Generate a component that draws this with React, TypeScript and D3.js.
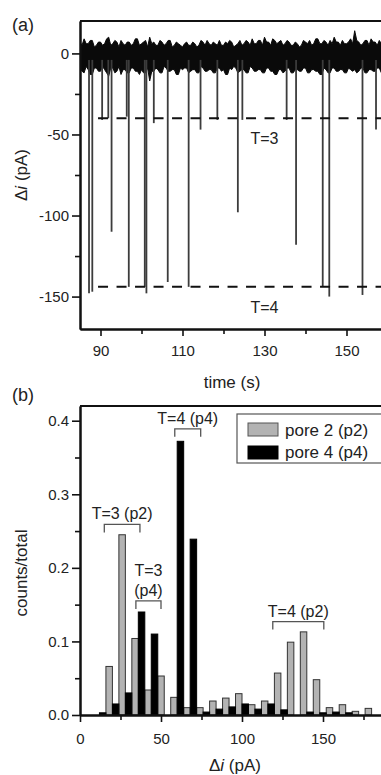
import React, { useEffect, useRef } from 'react';
import * as d3 from 'd3';

const W = 381;
const H = 775;
const FONT = "'Liberation Sans', Arial, Helvetica, sans-serif";

// ---- panel (a): current trace ----
const timeTicks = [90, 110, 130, 150];
const timeMinor = [100, 120, 140];
const currentTicks = [0, -50, -100, -150];
const currentMinor = [-25, -75, -125];

// noise envelope of the open-pore current, every 0.5 s starting at 85 s
const envStart = 85;
const envStep = 0.5;
const envUpper = [
  7, 5, 9, 6, 6, 8, 8, 4, 5, 7, 7, 5, 6, 9, 10, 5, 6, 8, 7, 4,
  8, 6, 5, 7, 7, 5, 6, 9, 9, 5, 6, 7, 8, 4, 10, 6, 7, 5, 5, 8,
  7, 5, 6, 8, 8, 4, 5, 7, 6, 5, 4, 6, 7, 5, 5, 7, 6, 4, 5, 8,
  7, 5, 8, 6, 5, 7, 6, 5, 8, 5, 5, 7, 6, 8, 7, 4, 5, 6, 8, 5,
  6, 8, 7, 5, 9, 6, 6, 8, 8, 5, 10, 7, 7, 5, 9, 8, 6, 7, 8, 5,
  6, 8, 7, 5, 5, 7, 6, 4, 5, 8, 7, 6, 8, 5, 6, 9, 9, 6, 6, 8,
  7, 5, 8, 6, 10, 7, 7, 5, 8, 6, 6, 7, 9, 6, 14, 8, 7, 5, 6, 8,
  8, 5, 9, 7, 7, 5, 8, 6, 6, 7, 7,
];
const envLower = [
  -9, -11, -12, -8, -10, -13, -13, -9, -9, -11, -11, -8, -10, -12, -14, -9, -9, -12, -11, -8,
  -13, -10, -10, -12, -12, -9, -9, -11, -11, -13, -10, -12, -12, -9, -17, -11, -11, -9, -10, -12,
  -12, -8, -9, -11, -11, -10, -10, -13, -13, -9, -10, -9, -9, -12, -11, -10, -10, -12, -12, -8,
  -9, -11, -11, -10, -10, -12, -12, -9, -9, -11, -10, -13, -13, -9, -10, -8, -9, -12, -11, -10,
  -10, -12, -12, -8, -9, -11, -11, -10, -10, -12, -12, -9, -9, -11, -11, -13, -13, -10, -10, -12,
  -11, -9, -9, -12, -12, -10, -10, -11, -11, -9, -9, -12, -12, -10, -10, -11, -11, -13, -13, -9,
  -10, -12, -12, -9, -9, -11, -11, -10, -10, -12, -12, -9, -10, -11, -10, -12, -11, -9, -9, -12,
  -12, -10, -10, -11, -11, -9, -9, -12, -12, -10, -10,
];

// blockade events
const eventTimes = [
  87.2, 88.0, 90.4, 91.9, 92.7, 96.4, 96.9, 100.8, 101.2, 103.0, 106.4,
  111.5, 114.4, 118.5, 123.5, 124.6, 135.4, 137.7, 144.2, 145.8, 153.9, 157.2,
];
const eventDepths = [
  -148, -147, -41, -40, -110, -39, -144, -144, -148, -43, -141,
  -144, -47, -41, -98, -41, -41, -118, -144, -150, -149, -47,
];

const levelNames = ['T=3', 'T=4'];
const levelValues = [-40, -144];

// ---- panel (b): histogram ----
const binWidth = 8;
const binStarts = [8, 16, 24, 32, 40, 48, 56, 64, 72, 80, 88, 96, 104, 112, 120, 128, 136, 144, 152, 160, 168, 176];
const p2Counts = [0, 0.066, 0.245, 0.104, 0.034, 0.053, 0.024, 0.01, 0.01, 0.019, 0.023, 0.029, 0.014, 0.019, 0.057, 0.099, 0.113, 0.048, 0.01, 0.014, 0.005, 0.009];
const p4Counts = [0.003, 0.015, 0.03, 0.14, 0.11, 0, 0.372, 0.239, 0.004, 0.008, 0.011, 0.015, 0.008, 0.015, 0.007, 0, 0.004, 0.003, 0.004, 0.003, 0, 0];
const seriesNames = ['pore 2 (p2)', 'pore 4 (p4)'];
const seriesFill = ['#b3b3b3', '#000'];

const diTicks = [0, 50, 100, 150];
const diMinor = [25, 75, 125, 175];
const fracTicks = [0, 0.1, 0.2, 0.3, 0.4];
const fracMinor = [0.05, 0.15, 0.25, 0.35];

const bracketLabels = [['T=3 (p2)'], ['T=3', '(p4)'], ['T=4 (p4)'], ['T=4 (p2)']];
const bracketFrom = [15, 34.5, 58.5, 119];
const bracketTo = [37, 50, 74.5, 150.5];
const bracketAt = [0.259, 0.155, 0.389, 0.127];

const styleAxis = (g: d3.Selection<SVGGElement, unknown, null, undefined>) => {
  g.select('.domain').attr('stroke', '#111').attr('stroke-width', 2);
  g.selectAll('.tick line').attr('stroke', '#111').attr('stroke-width', 1.6);
  g.selectAll('.tick text')
    .attr('fill', '#222')
    .style('font-family', FONT)
    .style('font-size', '15px');
};

export default function App() {
  const ref = useRef<SVGSVGElement | null>(null);

  useEffect(() => {
    if (!ref.current) return;
    const svg = d3.select(ref.current);
    svg.selectAll('*').remove();

    // ================= panel (a) =================
    const xa = d3.scaleLinear().domain([85, 160]).range([80, 387.5]);
    const ya = d3.scaleLinear().domain([-170, 20]).range([329, 21]);

    svg.append('clipPath').attr('id', 'clipA')
      .append('rect').attr('x', 80).attr('y', 21).attr('width', 308).attr('height', 308);

    const ga = svg.append('g');
    const plotA = ga.append('g').attr('clip-path', 'url(#clipA)');

    const idx = envUpper.map((_, i) => i);
    const band = d3.area<number>()
      .x(i => xa(envStart + i * envStep))
      .y0(i => ya(envLower[i]))
      .y1(i => ya(envUpper[i]));
    plotA.append('path').datum(idx).attr('d', band).attr('fill', '#0a0a0a')
      .attr('stroke', '#0a0a0a').attr('stroke-width', 1);

    const evIdx = eventTimes.map((_, i) => i);
    plotA.selectAll('.event').data(evIdx).join('line')
      .attr('class', 'event')
      .attr('x1', i => xa(eventTimes[i])).attr('x2', i => xa(eventTimes[i]))
      .attr('y1', ya(-4))
      .attr('y2', i => ya(eventDepths[i]))
      .attr('stroke', '#3c3c3c').attr('stroke-width', 1.8);

    plotA.selectAll('.level').data(levelValues).join('line')
      .attr('class', 'level')
      .attr('x1', xa(89.4)).attr('x2', xa(160))
      .attr('y1', d => ya(d)).attr('y2', d => ya(d))
      .attr('stroke', '#111').attr('stroke-width', 2)
      .attr('stroke-dasharray', '10,8.5');

    ga.selectAll('.levelLabel').data(levelNames).join('text')
      .attr('class', 'levelLabel')
      .attr('x', xa(130))
      .attr('y', (_, i) => ya(levelValues[i]) + 26)
      .attr('text-anchor', 'middle')
      .attr('fill', '#222')
      .style('font-family', FONT).style('font-size', '16px')
      .text(d => d);

    // frame + axes
    ga.append('line').attr('x1', 80).attr('x2', 388).attr('y1', 21).attr('y2', 21)
      .attr('stroke', '#111').attr('stroke-width', 2);

    ga.append('g').attr('transform', 'translate(0,329)')
      .call(d3.axisBottom(xa).tickValues(timeMinor).tickSize(5).tickSizeOuter(0).tickFormat(() => ''))
      .call(styleAxis);
    ga.append('g').attr('transform', 'translate(0,329)')
      .call(d3.axisBottom(xa).tickValues(timeTicks).tickSize(7).tickSizeOuter(0).tickPadding(9).tickFormat(d => String(d)))
      .call(styleAxis);
    ga.append('g').attr('transform', 'translate(80,0)')
      .call(d3.axisLeft(ya).tickValues(currentMinor).tickSize(5).tickSizeOuter(0).tickFormat(() => ''))
      .call(styleAxis);
    ga.append('g').attr('transform', 'translate(80,0)')
      .call(d3.axisLeft(ya).tickValues(currentTicks).tickSize(8).tickSizeOuter(0).tickPadding(3)
        .tickFormat(d => String(d).replace('\u2212', '-')))
      .call(styleAxis);

    const yLabA = ga.append('text')
      .attr('transform', 'translate(27,175) rotate(-90)')
      .attr('text-anchor', 'middle').attr('fill', '#222')
      .style('font-family', FONT).style('font-size', '17px');
    yLabA.append('tspan').text('\u0394');
    yLabA.append('tspan').style('font-style', 'italic').text('i');
    yLabA.append('tspan').text(' (pA)');

    ga.append('text').attr('x', 232).attr('y', 388).attr('text-anchor', 'middle')
      .attr('fill', '#222').style('font-family', FONT).style('font-size', '17px')
      .text('time (s)');

    ga.append('text').attr('x', 12).attr('y', 31).attr('fill', '#222')
      .style('font-family', FONT).style('font-size', '18px').text('(a)');

    // ================= panel (b) =================
    const xb = d3.scaleLinear().domain([0, 190]).range([80, 387.8]);
    const yb = d3.scaleLinear().domain([0, 0.42]).range([715, 406]);

    const gb = svg.append('g');
    const binIdx = binStarts.map((_, i) => i);

    gb.selectAll('.p2').data(binIdx.filter(i => p2Counts[i] > 0)).join('rect')
      .attr('class', 'p2')
      .attr('x', i => xb(binStarts[i]))
      .attr('width', i => xb(binStarts[i] + binWidth / 2) - xb(binStarts[i]))
      .attr('y', i => yb(p2Counts[i]))
      .attr('height', i => yb(0) - yb(p2Counts[i]))
      .attr('fill', seriesFill[0]).attr('stroke', '#333').attr('stroke-width', 1);

    gb.selectAll('.p4').data(binIdx.filter(i => p4Counts[i] > 0)).join('rect')
      .attr('class', 'p4')
      .attr('x', i => xb(binStarts[i] + binWidth / 2))
      .attr('width', i => xb(binStarts[i] + binWidth) - xb(binStarts[i] + binWidth / 2))
      .attr('y', i => yb(p4Counts[i]))
      .attr('height', i => yb(0) - yb(p4Counts[i]))
      .attr('fill', seriesFill[1]).attr('stroke', '#000').attr('stroke-width', 1);

    // brackets
    bracketLabels.forEach((lines, i) => {
      const x0 = xb(bracketFrom[i]);
      const x1 = xb(bracketTo[i]);
      const yt = yb(bracketAt[i]);
      gb.append('path')
        .attr('d', `M${x0},${yt + 8}V${yt}H${x1}V${yt + 8}`)
        .attr('fill', 'none').attr('stroke', '#555').attr('stroke-width', 1.3);
      lines.forEach((t, j) => {
        gb.append('text')
          .attr('x', (x0 + x1) / 2)
          .attr('y', yt - 5 - (lines.length - 1 - j) * 20)
          .attr('text-anchor', 'middle').attr('fill', '#222')
          .style('font-family', FONT).style('font-size', '16px')
          .text(t);
      });
    });

    // legend
    const lg = gb.append('g');
    lg.append('rect').attr('x', 237).attr('y', 414).attr('width', 160).attr('height', 49)
      .attr('fill', '#fff').attr('stroke', '#555').attr('stroke-width', 1.2);
    seriesNames.forEach((name, i) => {
      lg.append('rect').attr('x', 248).attr('y', 423 + i * 23).attr('width', 30).attr('height', 13)
        .attr('fill', seriesFill[i]).attr('stroke', i === 0 ? '#555' : '#000').attr('stroke-width', 1);
      lg.append('text').attr('x', 285).attr('y', 436 + i * 22).attr('fill', '#222')
        .style('font-family', FONT).style('font-size', '17px').text(name);
    });

    // frame + axes
    gb.append('line').attr('x1', 80).attr('x2', 388).attr('y1', 406).attr('y2', 406)
      .attr('stroke', '#111').attr('stroke-width', 2);

    gb.append('g').attr('transform', 'translate(0,715)')
      .call(d3.axisBottom(xb).tickValues(diMinor).tickSize(5).tickSizeOuter(0).tickFormat(() => ''))
      .call(styleAxis);
    gb.append('g').attr('transform', 'translate(0,715)')
      .call(d3.axisBottom(xb).tickValues(diTicks).tickSize(7).tickSizeOuter(0).tickPadding(11).tickFormat(d => String(d)))
      .call(styleAxis);
    gb.append('g').attr('transform', 'translate(80,0)')
      .call(d3.axisLeft(yb).tickValues(fracMinor).tickSize(5).tickSizeOuter(0).tickFormat(() => ''))
      .call(styleAxis);
    gb.append('g').attr('transform', 'translate(80,0)')
      .call(d3.axisLeft(yb).tickValues(fracTicks).tickSize(8).tickSizeOuter(0).tickPadding(3).tickFormat(d3.format('.1f')))
      .call(styleAxis);

    gb.append('text')
      .attr('transform', 'translate(27,573) rotate(-90)')
      .attr('text-anchor', 'middle').attr('fill', '#222')
      .style('font-family', FONT).style('font-size', '17px')
      .text('counts/total');

    const xLabB = gb.append('text').attr('x', 235).attr('y', 771).attr('text-anchor', 'middle')
      .attr('fill', '#222').style('font-family', FONT).style('font-size', '17px');
    xLabB.append('tspan').text('\u0394');
    xLabB.append('tspan').style('font-style', 'italic').text('i');
    xLabB.append('tspan').text(' (pA)');

    gb.append('text').attr('x', 12).attr('y', 401).attr('fill', '#222')
      .style('font-family', FONT).style('font-size', '18px').text('(b)');
  }, []);

  return (
    <svg
      ref={ref}
      width={W}
      height={H}
      viewBox={`0 0 ${W} ${H}`}
      style={{ position: 'absolute', left: 0, top: 0, background: '#fff', overflow: 'hidden' }}
    />
  );
}
